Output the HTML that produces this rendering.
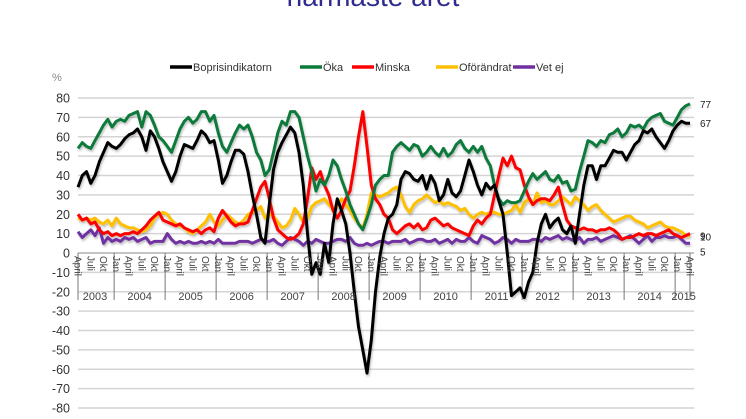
<!DOCTYPE html>
<html><head><meta charset="utf-8">
<style>
html,body{margin:0;padding:0;background:#fff;}
body{width:746px;height:419px;overflow:hidden;position:relative;font-family:"Liberation Sans",sans-serif;}
#title{position:absolute;left:0;width:746px;top:-19px;text-align:center;font-size:28px;color:#2e2a8f;}
</style></head>
<body>
<div id="title">närmaste året</div>
<svg id="chart" width="746" height="419" style="position:absolute;left:0;top:0">
<defs><filter id="sh" x="-5%" y="-5%" width="110%" height="110%"><feDropShadow dx="1" dy="2" stdDeviation="1" flood-color="#000" flood-opacity="0.25"/></filter></defs>
<g id="grid"></g><g id="axes"></g><g id="series" filter="url(#sh)"></g><g id="labels"></g><g id="legend"></g>
</svg>
<script>
const seriesNames=["Boprisindikatorn","Öka","Minska","Oförändrat","Vet ej"];
const seriesColors=["#000000","#0a7a3a","#ff0000","#ffc000","#7030a0"];
const yTicks=[80,70,60,50,40,30,20,10,0,-10,-20,-30,-40,-50,-60,-70,-80];
const years=["2003","2004","2005","2006","2007","2008","2009","2010","2011","2012","2013","2014","2015"];
const monthNames={0:"Jan",3:"April",6:"Juli",9:"Okt"};
const bopris=[34,40,42,36,40,47,52,57,55,
54,56,59,61,62,64,60,53,63,60,54,47,
42,37,42,50,56,55,54,58,63,61,57,58,
48,36,40,47,53,53,51,42,30,20,8,5,
25,43,52,57,61,65,62,52,35,10,-11,-5,
-11,5,-5,15,28,22,15,0,-20,-38,-50,-62,
-45,-20,-2,10,18,20,25,38,42,41,38,37,
40,33,40,36,27,30,38,31,29,32,40,48,
42,35,30,36,33,35,27,20,0,-22,-20,-18,
-23,-15,-10,5,15,20,13,16,18,12,10,14,
5,20,35,45,45,38,45,45,49,53,52,52,
48,52,56,58,63,62,64,60,57,54,58,63,
66,68,67,67];
const oka=[54,57,55,54,58,62,66,69,65,
68,69,68,71,72,73,65,73,71,66,60,58,
55,52,58,64,68,70,67,69,73,73,68,71,
62,55,52,57,62,66,64,66,60,52,48,40,
43,52,62,68,66,73,73,70,60,50,42,32,
38,35,40,48,45,38,32,25,20,15,12,18,
25,35,38,40,40,52,55,57,55,53,56,55,
50,52,55,52,50,54,50,52,56,58,54,52,
55,52,55,49,45,35,28,25,27,26,26,27,
32,37,41,38,40,42,38,37,40,36,37,32,
33,42,50,58,57,55,58,57,61,62,64,60,
62,66,65,66,64,68,70,71,72,68,67,66,
70,74,76,77];
const minska=[20,17,18,15,16,12,10,11,9,
10,9,10,10,11,10,12,14,17,19,21,17,
16,15,14,15,13,12,11,12,10,12,13,11,
18,22,19,16,14,15,15,16,22,28,34,37,
28,18,12,10,8,7,8,10,15,28,44,38,
42,35,30,22,18,22,28,32,45,60,73,55,
35,28,25,20,18,12,10,12,14,15,13,15,
12,13,17,18,16,14,15,13,12,11,10,9,
14,17,15,18,20,30,40,49,45,50,44,43,
35,29,25,27,28,28,27,30,34,25,17,14,
13,12,13,12,12,11,12,12,13,12,10,7,
8,8,9,10,9,10,10,9,10,11,12,10,
9,8,9,10];
const ofor=[18,17,18,17,18,16,15,17,14,
18,15,14,13,13,12,11,12,14,18,20,21,
20,17,15,14,13,11,10,12,14,16,20,16,
14,17,20,18,16,15,17,20,21,22,24,18,
20,19,16,13,14,17,23,20,16,18,24,26,
27,28,25,23,24,28,25,22,18,15,13,20,
31,30,29,30,31,33,34,30,24,21,25,27,
28,30,28,26,27,25,26,25,24,22,23,20,
18,20,21,20,21,21,20,20,21,22,25,21,
26,28,25,31,26,27,25,25,27,29,27,25,
29,27,25,22,24,25,22,20,18,16,17,18,
19,19,17,16,15,13,14,15,16,14,13,13,
12,11,9,9];
const vetej=[11,8,10,12,9,13,5,8,6,
7,6,8,7,8,6,7,8,5,6,6,6,
10,7,5,6,5,6,5,5,6,5,6,5,
7,5,5,5,5,6,6,6,5,6,7,6,
6,7,5,4,6,8,7,6,4,6,5,7,
6,5,5,6,7,7,6,8,5,4,4,5,
4,5,6,6,5,6,6,6,7,5,6,7,
7,6,6,7,5,6,7,5,7,6,6,8,
6,5,9,8,7,5,6,8,7,5,7,6,
6,6,7,7,6,8,7,8,9,7,8,7,
6,8,5,7,7,8,6,7,8,9,8,7,
8,9,7,5,7,9,6,8,8,9,8,8,
9,7,5,5];
const endLabels=["67","77","10","9","5"];

const NS="http://www.w3.org/2000/svg";
const X0=78,X1=694,DX=4.25;
function xm(i){return X0+i*DX;}
function yv(v){return 253-v*1.9375;}
function mk(tag,attrs,parent){const e=document.createElementNS(NS,tag);for(const k in attrs)e.setAttribute(k,attrs[k]);parent.appendChild(e);return e;}
const grid=document.getElementById('grid'),axes=document.getElementById('axes'),ser=document.getElementById('series'),lab=document.getElementById('labels'),leg=document.getElementById('legend');

let pct=mk('text',{x:52,y:81,'font-size':11,fill:'#888'},lab);pct.textContent='%';


yTicks.forEach(t=>{
  if(t!==0){const l=mk('line',{x1:X0,x2:X1,y1:yv(t),y2:yv(t),stroke:'#d4d4d4','stroke-width':1.5},grid);
  
  }
  const tx=mk('text',{x:70,y:yv(t)+4.5,'font-size':12.5,fill:'#333','text-anchor':'end'},lab);
  tx.textContent=t;
  
  
});
const ax=mk('line',{x1:X0,x2:X1,y1:yv(0),y2:yv(0),stroke:'#888','stroke-width':1},axes);


const n=bopris.length;
for(let i=0;i<n;i++){
  const mo=(i+3)%12;
  if(monthNames[mo]!==undefined){
    const x=xm(i);
    const t=mk('text',{x:0,y:0,'font-size':10,fill:'#444',transform:`translate(${x-3.5},256) rotate(90)`},lab);
    t.textContent=monthNames[mo];
    
    
  }
  if(mo===0||i===0||i===n-1){
    const x=(mo===0)?xm(i)-DX/2:xm(i);
    const l=mk('line',{x1:x,x2:x,y1:253,y2:300,stroke:'#777','stroke-width':1},axes);
    
    
  }
}
years.forEach((y,k)=>{
  const start=k===0?0:(k*12-3);
  const end=Math.min(n-1,k*12+8);
  const cx=(xm(start)+xm(end))/2+(k===0?0:0);
  const t=mk('text',{x:cx,y:300,'font-size':11,fill:'#444','text-anchor':'middle'},lab);
  t.textContent=y;
  
  
});
const allSeries=[bopris,oka,minska,ofor,vetej];
const order=[4,3,2,1,0];
order.forEach(s=>{
  const d=allSeries[s].map((v,i)=>(i?'L':'M')+xm(i).toFixed(1)+' '+yv(v).toFixed(1)).join(' ');
  const p=mk('path',{d:d,fill:'none',stroke:seriesColors[s],'stroke-width':3,'stroke-linejoin':'round'},ser);
  
  
});
const endY=[0,0,3,0,8];
allSeries.forEach((arr,s)=>{
  const t=mk('text',{x:700,y:yv(arr[n-1])+4+endY[s],'font-size':10,fill:'#222'},lab);
  t.textContent=endLabels[s];
  
  
});
const lx=[170,300,352,436,513];
seriesNames.forEach((nm,s)=>{
  const g=mk('g',{},leg);
  
  
  mk('line',{x1:lx[s],x2:lx[s]+22,y1:67,y2:67,stroke:seriesColors[s],'stroke-width':3.5},g);
  const t=mk('text',{x:lx[s]+23,y:71,'font-size':11,fill:'#333'},g);
  t.textContent=nm;
});
</script>
</body></html>
